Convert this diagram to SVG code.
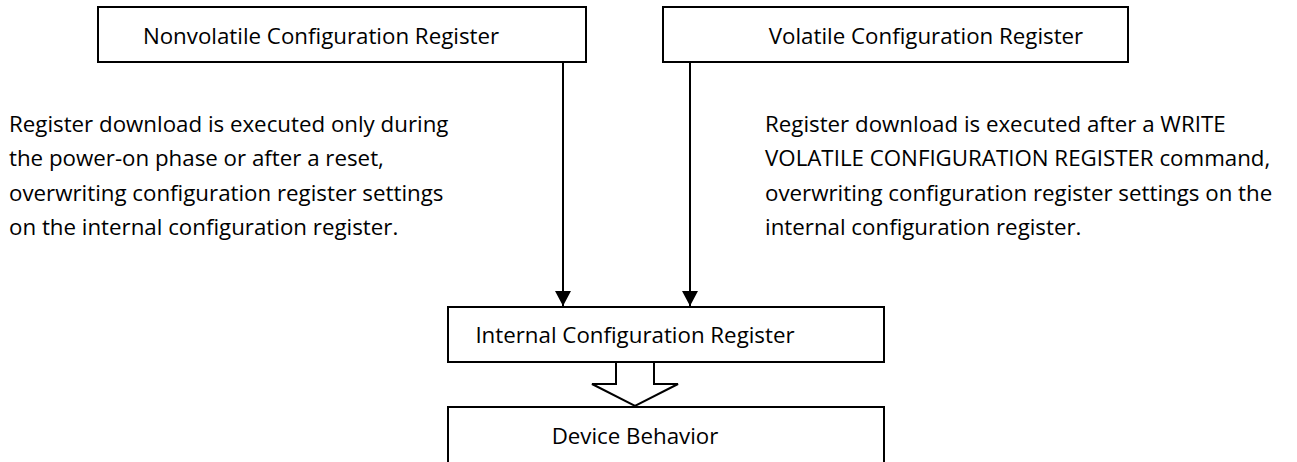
<svg xmlns="http://www.w3.org/2000/svg" width="1297" height="462" viewBox="0 0 1297 462">
<defs>
<style>
.box{fill:#fff;stroke:#000;stroke-width:2}
.t{font-family:"Open Sans","Noto Sans","Liberation Sans",sans-serif;font-size:22.3px;fill:#000}
.c{text-anchor:middle}
.ln{stroke:#000;stroke-width:2;fill:none}
</style>
<marker id="ah" viewBox="0 0 15 16" refX="15" refY="8" markerWidth="15" markerHeight="16" markerUnits="userSpaceOnUse" orient="auto">
<path d="M0,0 L15,8 L0,16 Z" fill="#000"/>
</marker>
</defs>
<rect width="1297" height="462" fill="#fff"/>
<g id="nonvolatile">
<rect class="box" x="98" y="7" width="488" height="55"/>
<text class="t c" x="321" y="44">Nonvolatile Configuration Register</text>
</g>
<g id="volatile">
<rect class="box" x="663" y="7" width="465" height="55"/>
<text class="t c" x="926" y="44">Volatile Configuration Register</text>
</g>
<g id="note-left">
<text class="t" x="9" y="132">Register download is executed only during</text>
<text class="t" x="9" y="166">the power-on phase or after a reset,</text>
<text class="t" x="9" y="201">overwriting configuration register settings</text>
<text class="t" x="9" y="235">on the internal configuration register.</text>
</g>
<g id="note-right">
<text class="t" x="765" y="132">Register download is executed after a WRITE</text>
<text class="t" x="765" y="166">VOLATILE CONFIGURATION REGISTER command,</text>
<text class="t" x="765" y="201">overwriting configuration register settings on the</text>
<text class="t" x="765" y="235">internal configuration register.</text>
</g>
<g id="internal">
<rect class="box" x="448" y="307" width="436" height="55"/>
<text class="t c" x="635" y="343">Internal Configuration Register</text>
</g>
<g id="device">
<rect class="box" x="448" y="407" width="436" height="80"/>
<text class="t c" x="635" y="444">Device Behavior</text>
</g>
<g id="connectors">
<line class="ln" x1="563" y1="62" x2="563" y2="306" marker-end="url(#ah)"/>
<line class="ln" x1="690" y1="62" x2="690" y2="306" marker-end="url(#ah)"/>
<path class="ln" d="M616,363 L616,384 L592,384 L635,406 L678,384 L654,384 L654,363" fill="#fff"/>
</g>
</svg>
